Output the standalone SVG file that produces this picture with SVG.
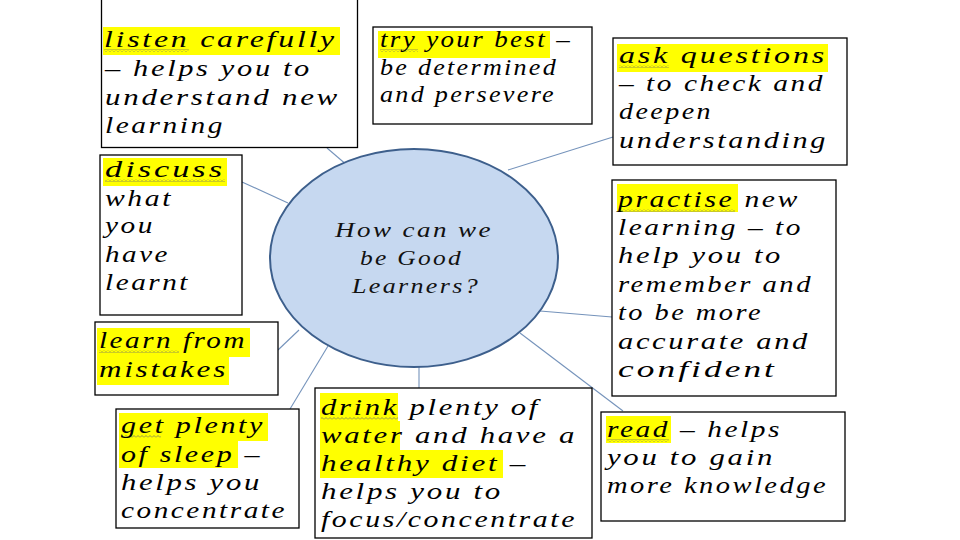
<svg xmlns="http://www.w3.org/2000/svg" width="960" height="540" viewBox="0 0 960 540">
<style>
.bg{fill:#ffffff}
.box{fill:#ffffff;stroke:#000000;stroke-width:1.3}
.hl{fill:#ffff00}
.wv{fill:url(#wave)}
.t{font-family:"Liberation Serif","DejaVu Serif",serif;font-style:italic;font-size:23px;letter-spacing:2px;fill:#000000}
.c{font-family:"Liberation Serif","DejaVu Serif",serif;font-style:italic;font-size:22px;letter-spacing:2px;fill:#111111}
.conn line{stroke:#7593bb;stroke-width:1.1}
</style>
<defs>
<pattern id="wave" width="4" height="3" patternUnits="userSpaceOnUse">
<path d="M0 2.5 L2 0.5 L4 2.5" fill="none" stroke="#7a7a5c" stroke-width="0.8"/>
</pattern>
</defs>
<rect class="bg" x="0" y="0" width="960" height="540"/>

<g id="connectors" class="conn">
<line x1="327" y1="148" x2="348" y2="166"/>
<line x1="242" y1="182" x2="288" y2="203"/>
<line x1="508" y1="170" x2="613" y2="137"/>
<line x1="540" y1="311" x2="612" y2="317"/>
<line x1="520" y1="333" x2="623" y2="411"/>
<line x1="419" y1="367" x2="419" y2="388"/>
<line x1="290" y1="409" x2="328" y2="346"/>
<line x1="278" y1="350" x2="299" y2="330"/>
</g>

<g id="center">
<ellipse cx="414" cy="258" rx="144" ry="109" fill="#c6d8f0" stroke="#3d5f8c" stroke-width="2"/>
<text class="c" x="335" y="237" textLength="158" lengthAdjust="spacingAndGlyphs">How can we</text>
<text class="c" x="360" y="265" textLength="103" lengthAdjust="spacingAndGlyphs">be Good</text>
<text class="c" x="352" y="293" textLength="128" lengthAdjust="spacingAndGlyphs">Learners?</text>
</g>

<g id="listen">
<rect class="box" x="101.5" y="-5" width="256" height="152.5"/>
<rect class="hl" x="103" y="27" width="237" height="28"/>
<rect class="wv" x="104" y="49" width="85" height="3"/>
<text class="t" x="104" y="47" textLength="233" lengthAdjust="spacingAndGlyphs">listen carefully</text>
<text class="t" x="105" y="76" textLength="207" lengthAdjust="spacingAndGlyphs">– helps you to</text>
<text class="t" x="105" y="105" textLength="235" lengthAdjust="spacingAndGlyphs">understand new</text>
<text class="t" x="105" y="133" textLength="120" lengthAdjust="spacingAndGlyphs">learning</text>
</g>

<g id="try">
<rect class="box" x="373" y="27" width="219" height="97"/>
<rect class="hl" x="378" y="31" width="172" height="27"/>
<rect class="wv" x="380" y="49" width="38" height="3"/>
<text class="t" x="380" y="47" textLength="192" lengthAdjust="spacingAndGlyphs">try your best –</text>
<text class="t" x="380" y="75" textLength="178" lengthAdjust="spacingAndGlyphs">be determined</text>
<text class="t" x="380" y="102" textLength="176" lengthAdjust="spacingAndGlyphs">and persevere</text>
</g>

<g id="ask">
<rect class="box" x="613" y="38" width="234" height="127"/>
<rect class="hl" x="617" y="44" width="211" height="28"/>
<rect class="wv" x="619" y="65" width="50" height="3"/>
<text class="t" x="619" y="63" textLength="208" lengthAdjust="spacingAndGlyphs">ask questions</text>
<text class="t" x="619" y="91" textLength="206" lengthAdjust="spacingAndGlyphs">– to check and</text>
<text class="t" x="619" y="119" textLength="94" lengthAdjust="spacingAndGlyphs">deepen</text>
<text class="t" x="619" y="148" textLength="209" lengthAdjust="spacingAndGlyphs">understanding</text>
</g>

<g id="discuss">
<rect class="box" x="100" y="155" width="142" height="160"/>
<rect class="hl" x="103" y="158" width="124" height="28"/>
<rect class="wv" x="105" y="179" width="120" height="3"/>
<text class="t" x="105" y="177" textLength="120" lengthAdjust="spacingAndGlyphs">discuss</text>
<text class="t" x="105" y="206" textLength="68" lengthAdjust="spacingAndGlyphs">what</text>
<text class="t" x="105" y="233" textLength="50" lengthAdjust="spacingAndGlyphs">you</text>
<text class="t" x="105" y="262" textLength="65" lengthAdjust="spacingAndGlyphs">have</text>
<text class="t" x="105" y="290" textLength="85" lengthAdjust="spacingAndGlyphs">learnt</text>
</g>

<g id="practise">
<rect class="box" x="612" y="180" width="224" height="216"/>
<rect class="hl" x="617" y="184" width="121" height="28"/>
<rect class="wv" x="619" y="209" width="116" height="3"/>
<text class="t" x="618" y="207" textLength="182" lengthAdjust="spacingAndGlyphs">practise new</text>
<text class="t" x="618" y="235" textLength="185" lengthAdjust="spacingAndGlyphs">learning – to</text>
<text class="t" x="618" y="263" textLength="165" lengthAdjust="spacingAndGlyphs">help you to</text>
<text class="t" x="618" y="292" textLength="195" lengthAdjust="spacingAndGlyphs">remember and</text>
<text class="t" x="618" y="320" textLength="145" lengthAdjust="spacingAndGlyphs">to be more</text>
<text class="t" x="618" y="349" textLength="192" lengthAdjust="spacingAndGlyphs">accurate and</text>
<text class="t" x="618" y="377" textLength="159" lengthAdjust="spacingAndGlyphs">confident</text>
</g>

<g id="mistakes">
<rect class="box" x="95" y="322" width="183" height="73"/>
<rect class="hl" x="97" y="328" width="153" height="29"/>
<rect class="hl" x="97" y="357" width="132" height="28"/>
<rect class="wv" x="99" y="350" width="80" height="3"/>
<text class="t" x="99" y="348" textLength="148" lengthAdjust="spacingAndGlyphs">learn from</text>
<text class="t" x="99" y="377" textLength="129" lengthAdjust="spacingAndGlyphs">mistakes</text>
</g>

<g id="sleep">
<rect class="box" x="116" y="409" width="183" height="119"/>
<rect class="hl" x="119" y="413" width="149" height="28"/>
<rect class="hl" x="119" y="441" width="119" height="27"/>
<rect class="wv" x="121" y="435" width="40" height="3"/>
<text class="t" x="121" y="433" textLength="144" lengthAdjust="spacingAndGlyphs">get plenty</text>
<text class="t" x="121" y="462" textLength="141" lengthAdjust="spacingAndGlyphs">of sleep –</text>
<text class="t" x="121" y="490" textLength="141" lengthAdjust="spacingAndGlyphs">helps you</text>
<text class="t" x="121" y="518" textLength="166" lengthAdjust="spacingAndGlyphs">concentrate</text>
</g>

<g id="drink">
<rect class="box" x="315" y="388" width="277" height="150"/>
<rect class="hl" x="320" y="393" width="78" height="28"/>
<rect class="hl" x="320" y="421" width="80" height="29"/>
<rect class="hl" x="320" y="450" width="183" height="28"/>
<rect class="wv" x="321" y="417" width="77" height="3"/>
<text class="t" x="321" y="415" textLength="219" lengthAdjust="spacingAndGlyphs">drink plenty of</text>
<text class="t" x="321" y="443" textLength="256" lengthAdjust="spacingAndGlyphs">water and have a</text>
<text class="t" x="321" y="471" textLength="207" lengthAdjust="spacingAndGlyphs">healthy diet –</text>
<text class="t" x="321" y="499" textLength="182" lengthAdjust="spacingAndGlyphs">helps you to</text>
<text class="t" x="321" y="527" textLength="256" lengthAdjust="spacingAndGlyphs">focus/concentrate</text>
</g>

<g id="read">
<rect class="box" x="601" y="412" width="244" height="109"/>
<rect class="hl" x="606" y="416" width="65" height="27"/>
<rect class="wv" x="607" y="439" width="62" height="3"/>
<text class="t" x="607" y="437" textLength="175" lengthAdjust="spacingAndGlyphs">read – helps</text>
<text class="t" x="607" y="465" textLength="168" lengthAdjust="spacingAndGlyphs">you to gain</text>
<text class="t" x="607" y="493" textLength="221" lengthAdjust="spacingAndGlyphs">more knowledge</text>
</g>
</svg>
